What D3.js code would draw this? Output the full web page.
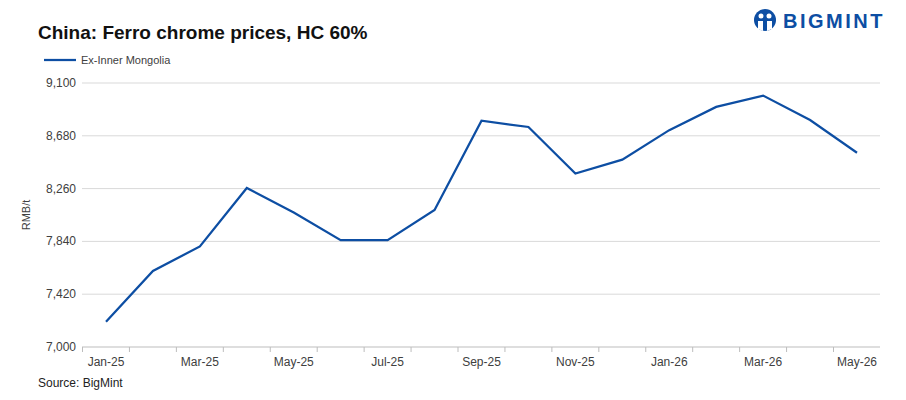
<!DOCTYPE html>
<html><head><meta charset="utf-8">
<script src="https://cdn.jsdelivr.net/npm/d3@7"></script>
<style>body{margin:0;background:#fff;font-family:"Liberation Sans",Arial,sans-serif}</style>
</head><body><div id="chart"></div>
<script>
const months = ["Jan-25","Feb-25","Mar-25","Apr-25","May-25","Jun-25","Jul-25","Aug-25","Sep-25","Oct-25","Nov-25","Dec-25","Jan-26","Feb-26","Mar-26","Apr-26","May-26"];
const prices = [7200,7605,7800,8265,8070,7850,7850,8090,8800,8750,8380,8490,8725,8910,9000,8805,8545];
const yTicks = [7000,7420,7840,8260,8680,9100];
const xLabels = ["Jan-25","Mar-25","May-25","Jul-25","Sep-25","Nov-25","Jan-26","Mar-26","May-26"];

const width = 906, height = 400;
const margin = { top: 83, right: 26, bottom: 53, left: 82 };
const blue = "#0d4ea3";

const svg = d3.select("#chart").append("svg")
    .attr("width", width).attr("height", height);

const x = d3.scalePoint().domain(months)
    .range([106, 857]);
const y = d3.scaleLinear().domain([7000, 9100])
    .range([height - margin.bottom, margin.top]);

// gridlines
svg.append("g").selectAll("line").data(yTicks).enter().append("line")
    .attr("x1", margin.left).attr("x2", width - margin.right)
    .attr("y1", d => y(d)).attr("y2", d => y(d))
    .attr("stroke", d => d === 7000 ? "#bdbdbd" : "#d9d9d9").attr("stroke-width", 1);

// x tick marks
svg.append("g").selectAll("line").data(months).enter().append("line")
    .attr("x1", (d, i) => x(d) - 23.5).attr("x2", (d, i) => x(d) - 23.5)
    .attr("y1", y(7000)).attr("y2", y(7000) + 5)
    .attr("stroke", "#bdbdbd");

svg.append("g").selectAll("text").data(yTicks).enter().append("text")
    .attr("x", 76).attr("y", d => y(d) + 4)
    .attr("text-anchor", "end").attr("font-size", 12).attr("fill", "#404040")
    .text(d => d3.format(",")(d));

svg.append("g").selectAll("text").data(xLabels).enter().append("text")
    .attr("x", d => x(d)).attr("y", 366)
    .attr("text-anchor", "middle").attr("font-size", 12).attr("fill", "#404040")
    .text(d => d);

svg.append("path").datum(prices)
    .attr("d", d3.line().x((d, i) => x(months[i])).y(d => y(d)))
    .attr("fill", "none").attr("stroke", blue).attr("stroke-width", 2.25);

svg.append("text").attr("x", 30).attr("y", 215)
    .attr("transform", "rotate(-90 30 215)")
    .attr("text-anchor", "middle").attr("font-size", 11).attr("fill", "#404040")
    .text("RMB/t");

svg.append("text").attr("x", 38).attr("y", 39)
    .attr("font-size", 19).attr("font-weight", "bold").attr("fill", "#111")
    .text("China: Ferro chrome prices, HC 60%");

svg.append("line").attr("x1", 44).attr("x2", 76).attr("y1", 60).attr("y2", 60)
    .attr("stroke", blue).attr("stroke-width", 2.25);
svg.append("text").attr("x", 81).attr("y", 64)
    .attr("font-size", 11).attr("fill", "#404040").text("Ex-Inner Mongolia");

svg.append("text").attr("x", 38).attr("y", 387)
    .attr("font-size", 12).attr("fill", "#222").text("Source: BigMint");

// logo
const logo = svg.append("g").attr("transform", "translate(765,20)");
logo.append("circle").attr("r", 11).attr("fill", blue);
logo.append("circle").attr("cx", -4).attr("cy", -4).attr("r", 2.5).attr("fill", "#fff");
logo.append("circle").attr("cx", 4).attr("cy", -4).attr("r", 2.5).attr("fill", "#fff");
logo.append("path").attr("d", "M-7,1 L-2,1 L-2,11 L-7,9 Z M2,1 L7,1 L7,9 L2,11 Z").attr("fill", "#fff");
svg.append("text").attr("x", 783).attr("y", 28)
    .attr("font-size", 20).attr("font-weight", "bold").attr("fill", blue)
    .attr("letter-spacing", 2.5).text("BIGMINT");
</script></body></html>
